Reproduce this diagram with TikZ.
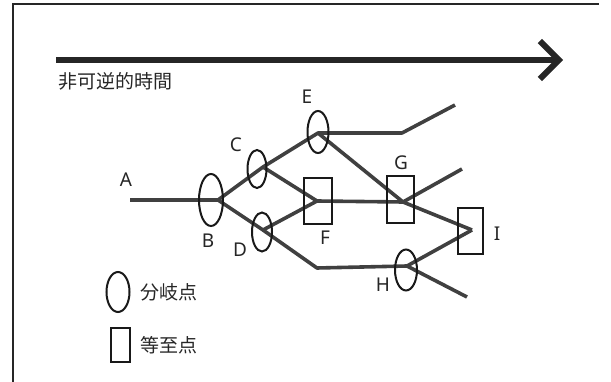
\documentclass[tikz,border=0pt]{standalone}
\usepackage{fontspec}
\setmainfont{Noto Sans}
\newfontfamily\jpfont{Noto Sans CJK JP}
\usepackage{tikz}
\usetikzlibrary{shapes.geometric,arrows.meta,positioning}

\begin{document}
\begin{tikzpicture}[x=1pt, y=-1pt,
    path/.style={draw=black!75, line width=3.6pt, line join=round},
    branch/.style={ellipse, draw=black!90, line width=2pt, inner sep=0pt, minimum width=21pt, minimum height=40pt},
    equi/.style={rectangle, draw=black!90, line width=2pt, inner sep=0pt, minimum width=27pt, minimum height=46pt},
    lbl/.style={font=\fontsize{19}{19}\selectfont, text=black!85},
    legend/.style={font=\jpfont\fontsize{19}{19}\selectfont, text=black!85, anchor=west}]

    \useasboundingbox (0,0) rectangle (611,382);
    \draw[line width=2pt, black!85] (13,382) -- (13,4) -- (599,4);

    % time axis
    \coordinate (t0) at (56,60);
    \coordinate (t1) at (563,60);
    \draw[line width=6pt, black!85, -{Straight Barb[length=19pt, width=38pt]}] (t0) -- (t1);
    \node[legend] (time) at (55,81) {非可逆的時間};

    % branching points and equifinality points
    \coordinate (vA) at (130,200);
    \coordinate (vB) at (218,200);
    \coordinate (vC) at (263,167);
    \coordinate (vD) at (263,230);
    \coordinate (vE) at (318,133);
    \coordinate (vF) at (317,201);
    \coordinate (vG) at (403,202);
    \coordinate (vH) at (407,266);
    \coordinate (vI) at (472,230);
    \coordinate (kE) at (402,133);
    \coordinate (kD) at (317,268);
    \coordinate (eE) at (455,105);
    \coordinate (eG) at (462,169);
    \coordinate (eH) at (467,297);

    % trajectories
    \draw[path] (vA) -- (vB);
    \draw[path] (vB) -- (vC) -- (vE) -- (kE) -- (eE);
    \draw[path] (vC) -- (vF) -- (vG) -- (eG);
    \draw[path] (vB) -- (vD) -- (vF);
    \draw[path] (vD) -- (kD) -- (vH) -- (vI);
    \draw[path] (vE) -- (vG) -- (vI);
    \draw[path] (vH) -- (eH);

    \node[branch, minimum width=24pt, minimum height=52pt] (B) at (211,200) {};
    \node[branch, minimum width=19pt, minimum height=38pt] (C) at (257,169) {};
    \node[branch, minimum width=20pt, minimum height=39pt] (D) at (262,232) {};
    \node[branch, minimum height=42pt] (E) at (318,132) {};
    \node[branch, minimum width=22pt, minimum height=41pt] (H) at (406,270) {};
    \node[equi, minimum width=28pt] (F) at (318,201) {};
    \node[equi, minimum height=47pt] (G) at (400,200) {};
    \node[equi, minimum width=25pt] (I) at (470,231) {};

    \node[lbl] at (126,180) {A};
    \node[lbl] at (208,241) {B};
    \node[lbl] at (236,145) {C};
    \node[lbl] at (240,250) {D};
    \node[lbl] at (307,97) {E};
    \node[lbl] at (325,238) {F};
    \node[lbl] at (401,163) {G};
    \node[lbl] at (383,285) {H};
    \node[lbl] at (497,234) {I};

    % legend
    \node[branch, minimum width=23pt] (L1) at (118,292) {};
    \node[legend, right=6pt of L1] {分岐点};
    \node[equi, minimum width=19pt, minimum height=34pt] (L2) at (120.5,345) {};
    \node[legend, right=6pt of L2] {等至点};
\end{tikzpicture}
\end{document}
